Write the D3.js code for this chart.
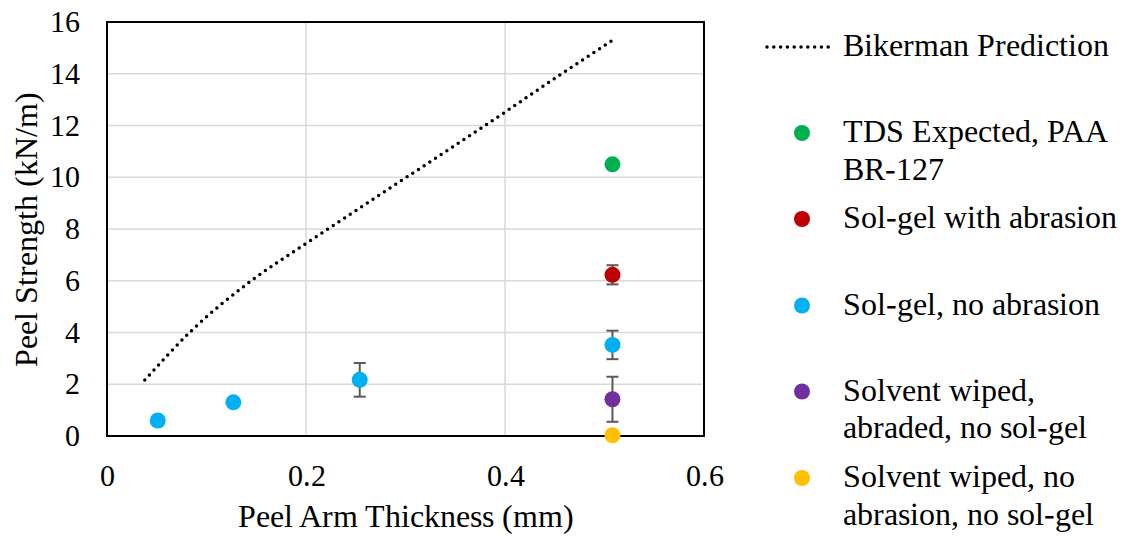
<!DOCTYPE html>
<html><head><script src="https://d3js.org/d3.v7.min.js"></script>
<style>
  @font-face { font-family: 'ChartSerif'; src: local('Liberation Serif'), local('LiberationSerif'), local('Liberation Serif Regular'), local('LiberationSerif-Regular'); }
  body { margin: 0; }
</style>
</head>
<body>
<script>
  // Bikerman prediction, points
  const bikermanX = [0.038, 0.083, 0.145, 0.2, 0.222, 0.301, 0.38, 0.457, 0.508];
  const bikermanY = [2.16, 4.0, 6.0, 7.44, 8.0, 10.0, 12.0, 14.0, 15.29];

  // measured series
  const seriesNames = [
    ['TDS Expected, PAA', 'BR-127'],
    ['Sol-gel with abrasion'],
    ['Sol-gel, no abrasion'],
    ['Solvent wiped,', 'abraded, no sol-gel'],
    ['Solvent wiped, no', 'abrasion, no sol-gel']
  ];
  const seriesColors = ['#00b050', '#c00000', '#00b0f0', '#7030a0', '#ffc000'];
  const seriesX = [[0.508], [0.508], [0.051, 0.127, 0.254, 0.508], [0.508], [0.508]];
  const seriesY = [[10.5], [6.23], [0.6, 1.3, 2.17, 3.52], [1.42], [0.03]];
  const seriesErr = [[0], [0.37], [0.05, 0.1, 0.65, 0.55], [0.87], [0]];

  const xTicks = [0, 0.2, 0.4, 0.6];
  const yTicks = [0, 2, 4, 6, 8, 10, 12, 14, 16];

  const FONT = "ChartSerif, 'Liberation Serif', serif";
  const pLeft = 107, pRight = 704, pTop = 22, pBottom = 436;

  const svg = d3.select('body').append('svg')
    .attr('width', 1121)
    .attr('height', 538)
    .attr('font-family', FONT);

  const x = d3.scaleLinear().domain([0, 0.6]).range([pLeft, pRight]);
  const y = d3.scaleLinear().domain([0, 16]).range([pBottom, pTop]);

  const setFont = (sel, size) => sel
    .attr('font-family', FONT)
    .style('font-family', FONT)
    .style('font-size', size + 'px');

  // grid
  svg.append('g')
    .selectAll('line')
    .data(yTicks.slice(1, -1))
    .join('line')
    .attr('x1', pLeft).attr('x2', pRight)
    .attr('y1', d => y(d)).attr('y2', d => y(d))
    .attr('stroke', '#d9d9d9').attr('stroke-width', 1.5);

  svg.append('g')
    .selectAll('line')
    .data(xTicks.slice(1, -1))
    .join('line')
    .attr('y1', pTop).attr('y2', pBottom)
    .attr('x1', d => x(d)).attr('x2', d => x(d))
    .attr('stroke', '#d9d9d9').attr('stroke-width', 1.5);

  // axes (labels only, frame drawn separately)
  const xAxis = svg.append('g')
    .attr('transform', `translate(0,${pBottom})`)
    .call(d3.axisBottom(x).tickValues(xTicks).tickSize(0).tickPadding(29).tickFormat(d3.format('')));
  const yAxis = svg.append('g')
    .attr('transform', `translate(${pLeft},0)`)
    .call(d3.axisLeft(y).tickValues(yTicks).tickSize(0).tickPadding(27).tickFormat(d3.format('')));
  [xAxis, yAxis].forEach(a => {
    a.attr('font-family', FONT);
    a.select('.domain').remove();
    setFont(a.selectAll('text'), 30).attr('fill', '#000');
  });

  // plot frame
  svg.append('rect')
    .attr('x', pLeft).attr('y', pTop)
    .attr('width', pRight - pLeft).attr('height', pBottom - pTop)
    .attr('fill', 'none').attr('stroke', '#000').attr('stroke-width', 2);

  // Bikerman line
  const bikerman = bikermanX.map((d, i) => [d, bikermanY[i]]);
  svg.append('path')
    .datum(bikerman)
    .attr('fill', 'none')
    .attr('stroke', '#000')
    .attr('stroke-width', 3.5)
    .attr('stroke-linecap', 'round')
    .attr('stroke-dasharray', '0 6.8')
    .attr('d', d3.line().x(d => x(d[0])).y(d => y(d[1])).curve(d3.curveMonotoneX));

  // error bars and markers
  seriesX.forEach((xs, s) => {
    const pts = xs.map((d, i) => ({ x: d, y: seriesY[s][i], e: seriesErr[s][i] }));
    const g = svg.append('g');
    const eb = g.selectAll('g').data(pts.filter(p => p.e > 0)).join('g')
      .attr('stroke', '#595959').attr('stroke-width', 2);
    eb.append('line')
      .attr('x1', d => x(d.x)).attr('x2', d => x(d.x))
      .attr('y1', d => y(d.y + d.e)).attr('y2', d => y(d.y - d.e));
    eb.append('line')
      .attr('x1', d => x(d.x) - 6).attr('x2', d => x(d.x) + 6)
      .attr('y1', d => y(d.y + d.e)).attr('y2', d => y(d.y + d.e));
    eb.append('line')
      .attr('x1', d => x(d.x) - 6).attr('x2', d => x(d.x) + 6)
      .attr('y1', d => y(d.y - d.e)).attr('y2', d => y(d.y - d.e));
    g.selectAll('circle').data(pts).join('circle')
      .attr('cx', d => x(d.x)).attr('cy', d => y(d.y))
      .attr('r', 8).attr('fill', seriesColors[s]);
  });

  // axis titles
  setFont(svg.append('text'), 31.5)
    .attr('x', (pLeft + pRight) / 2).attr('y', 527)
    .attr('text-anchor', 'middle')
    .text('Peel Arm Thickness (mm)');
  setFont(svg.append('text'), 31.5)
    .attr('transform', `translate(37,${(pTop + pBottom) / 2}) rotate(-90)`)
    .attr('text-anchor', 'middle')
    .text('Peel Strength (kN/m)');

  // legend
  const legend = svg.append('g');
  legend.append('line')
    .attr('x1', 767).attr('x2', 835).attr('y1', 47).attr('y2', 47)
    .attr('stroke', '#000').attr('stroke-width', 3.5)
    .attr('stroke-linecap', 'round').attr('stroke-dasharray', '0 6.8');
  setFont(legend.append('text'), 31.5)
    .attr('x', 843).attr('y', 56)
    .text('Bikerman Prediction');

  const legendY = [133, 219, 305.5, 391.5, 478];
  seriesNames.forEach((lines, s) => {
    legend.append('circle')
      .attr('cx', 802).attr('cy', legendY[s]).attr('r', 8)
      .attr('fill', seriesColors[s]);
    const t = setFont(legend.append('text'), 31.5)
      .attr('x', 843).attr('y', legendY[s] + 9);
    lines.forEach((ln, i) => {
      t.append('tspan').attr('x', 843).attr('dy', i === 0 ? 0 : 37.5).text(ln);
    });
  });
</script>
</body>
</html>
